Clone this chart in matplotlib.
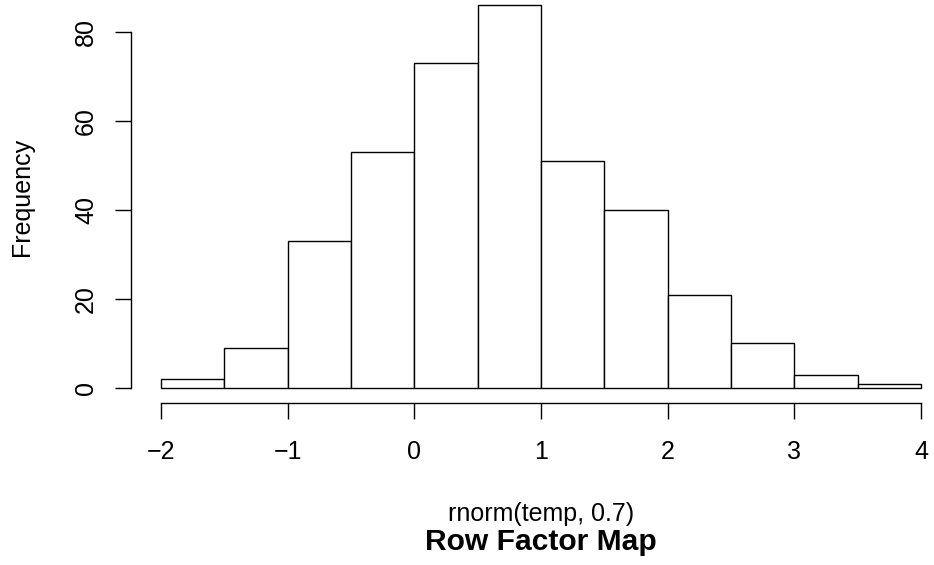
import matplotlib
matplotlib.use("Agg")
import matplotlib.pyplot as plt
import numpy as np

plt.rcParams['font.family'] = ['Liberation Sans', 'DejaVu Sans']

# Histogram of rnorm(temp, 0.7): bin edges and counts
bin_edges = [-2.0, -1.5, -1.0, -0.5, 0.0, 0.5, 1.0, 1.5, 2.0, 2.5, 3.0, 3.5, 4.0]
counts = [2, 9, 33, 53, 73, 86, 51, 40, 21, 10, 3, 1]
x_ticks = [-2, -1, 0, 1, 2, 3, 4]
y_ticks = [0, 20, 40, 60, 80]

W, H = 934, 565
fig = plt.figure(figsize=(W / 100, H / 100), dpi=100)

# plot region in pixels (R-style 4% padding around data range)
left_px, right_px = 130.6, 951.4
bottom_px, top_px = 403.3, -10.0
ax = fig.add_axes([left_px / W, (H - bottom_px) / H,
                   (right_px - left_px) / W, (bottom_px - top_px) / H])

edges = np.array(bin_edges)
widths = np.diff(edges)
ax.bar(edges[:-1], counts, width=widths, align='edge',
       facecolor='white', edgecolor='black', linewidth=1.0)

xr = edges[-1] - edges[0]
ax.set_xlim(edges[0] - 0.04 * xr, edges[-1] + 0.04 * xr)
ymax = max(counts)
ax.set_ylim(-0.04 * ymax, ymax * 1.04)

for s in ['top', 'right']:
    ax.spines[s].set_visible(False)
ax.spines['bottom'].set_bounds(x_ticks[0], x_ticks[-1])
ax.spines['left'].set_bounds(y_ticks[0], y_ticks[-1])
for s in ['bottom', 'left']:
    ax.spines[s].set_linewidth(1.0)

ax.set_xticks(x_ticks)
ax.set_xticklabels([f"{v}".replace('-', '\u2212') for v in x_ticks])
ax.set_yticks(y_ticks)
ax.set_yticklabels([str(v) for v in y_ticks])
ax.tick_params(axis='both', direction='out', length=11.5, width=1.0,
               labelsize=18, color='black')
ax.tick_params(axis='x', pad=15)
ax.tick_params(axis='y', pad=12)
for lab in ax.get_yticklabels():
    lab.set_rotation(90)
    lab.set_va('center')
    lab.set_ha('right')

cx = (left_px + right_px) / 2
fig.text(cx / W, 1 - 521 / H, 'rnorm(temp, 0.7)', ha='center', va='baseline',
         fontsize=18)
fig.text(cx / W, 1 - 550 / H, 'Row Factor Map', ha='center', va='baseline',
         fontsize=21.6, fontweight='bold')
fig.text(22 / W, 1 - 197 / H, 'Frequency', ha='center', va='center',
         rotation=90, fontsize=18)

fig.savefig('out.png', dpi=100, facecolor='white')
